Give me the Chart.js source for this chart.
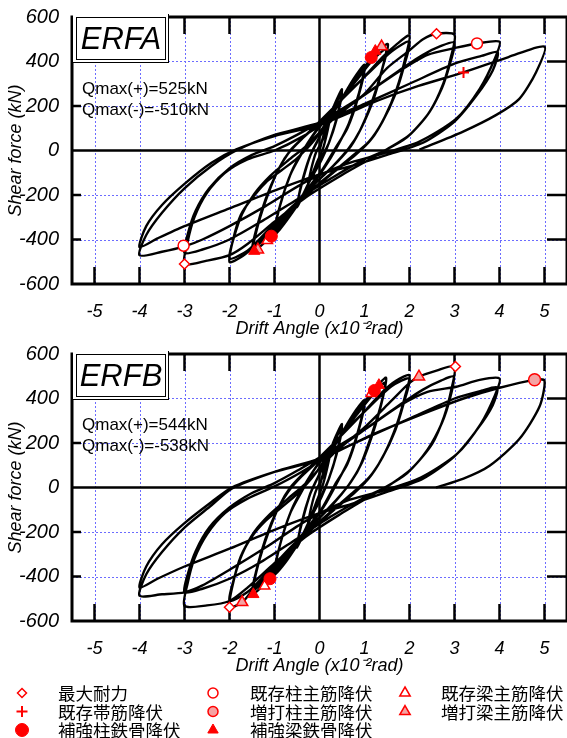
<!DOCTYPE html>
<html>
<head>
<meta charset="utf-8">
<title>ERFA / ERFB</title>
<script src="https://cdn.jsdelivr.net/npm/chart.js@4.4.1/dist/chart.umd.min.js"></script>
<style>
  body { margin: 0; background: #fff; }
  #page { position: relative; width: 567px; height: 738px; overflow: hidden; font-family: Arial, "Liberation Sans", sans-serif; }
  .plot { position: absolute; left: 0; }
  .tag { position: absolute; left: 73px; width: 96px; height: 49px; background: #fff; border-right: 1px solid #000; border-bottom: 1px solid #000; box-sizing: border-box; }
  .tag div { position: absolute; left: 3px; top: 3px; width: 90px; height: 43px; border: 1px solid #000; box-sizing: border-box; font-style: italic; font-size: 31px; line-height: 41px; text-align: center; }
  .qmax { position: absolute; left: 82px; font-size: 17px; line-height: 21px; white-space: nowrap; }
  .key { position: absolute; font-family: "Noto Sans CJK JP", sans-serif; font-size: 17.5px; line-height: 20px; white-space: nowrap; }
  #keys { position: absolute; left: 0; top: 678px; }
</style>
</head>
<body>
<div id="page">
  <canvas id="erfa" class="plot" width="567" height="340" style="top:0"></canvas>
  <canvas id="erfb" class="plot" width="567" height="340" style="top:337px"></canvas>
  <canvas id="keys" width="567" height="60"></canvas>

  <div class="tag" style="top:14px"><div>ERFA</div></div>
  <div class="qmax" style="top:78px">Qmax(+)=525kN<br>Qmax(-)=-510kN</div>

  <div class="tag" style="top:351px"><div>ERFB</div></div>
  <div class="qmax" style="top:414px">Qmax(+)=544kN<br>Qmax(-)=-538kN</div>
</div>

<script>
// axis ticks
const driftTicks = [-5, -4, -3, -2, -1, 0, 1, 2, 3, 4, 5];
const shearTicks = [-600, -400, -200, 0, 200, 400, 600];

// ERFA hysteresis (drift x10^-2 rad, shear kN), one line per cycle group
const erfaDrift = [
  0, 0.12, 0.25, 0.18, 0.08, -0.05, -0.25, -0.18, -0.08,
  0.1, 0.3, 0.5, 0.4, 0.22, 0.05, -0.25, -0.5, -0.4, -0.22, -0.05,
  0.25, 0.5, 0.38, 0.2, 0.02, -0.25, -0.5, -0.38, -0.2,
  0, 0.4, 0.75, 1.0, 0.88, 0.65, 0.4, 0.1, -0.4, -0.75, -1.0, -0.88, -0.65, -0.4, -0.1,
  0.4, 0.75, 1.0, 0.86, 0.62, 0.35, 0.05, -0.45, -0.75, -1.0, -0.86, -0.62, -0.35,
  0, 0.5, 0.95, 1.25, 1.52, 1.4, 1.2, 0.95, 0.7, 0.4, -0.2, -0.8, -1.2, -1.5, -1.4, -1.2, -0.95, -0.7, -0.4,
  0.2, 0.8, 1.2, 1.48, 1.37, 1.15, 0.9, 0.65, 0.3, -0.3, -0.9, -1.25, -1.47, -1.36, -1.15, -0.9, -0.65,
  -0.3, 0.3, 0.9, 1.4, 1.7, 2.0, 1.9, 1.72, 1.45, 1.15, 0.8, 0.3, -0.4, -1.0, -1.5, -1.75, -2.0, -1.92, -1.75, -1.5, -1.2, -0.85, -0.5, -0.1,
  0.5, 1.1, 1.6, 2.0, 1.88, 1.68, 1.4, 1.1, 0.7, 0.1, -0.6, -1.2, -1.6, -2.0, -1.9, -1.72, -1.45, -1.1, -0.7, -0.3,
  0.3, 1.0, 1.5, 2.0, 2.3, 2.6, 3.0, 2.92, 2.75, 2.45, 2.0, 1.5, 1.2, 0.5, -0.3, -1.0, -1.6, -2.0, -2.5, -3.0, -2.93, -2.78, -2.5, -2.1, -1.6, -1.0, -0.4,
  0.3, 1.0, 1.7, 2.3, 2.7, 3.0, 2.9, 2.72, 2.4, 1.95, 1.45, 1.0, 0.3, -0.5, -1.3, -2.0, -2.6, -3.0, -2.92, -2.75, -2.45, -2.0, -1.5, -1.0, -0.5,
  0.2, 1.0, 1.8, 2.4, 3.04, 3.5, 4.0, 3.89, 3.56, 3.04, 2.22, 1.33, 0.6, -0.3, -1.2, -2.0, -2.6, -3.0, -3.5, -4.0, -3.85, -3.5, -3.0, -2.4, -1.85, -1.0, 0,
  1.0, 2.0, 3.0, 3.6, 3.96, 3.85, 3.5, 3.0, 2.3, 1.5, 0.7, 0, -1.0, -2.0, -3.0, -3.6, -4.0, -3.85, -3.5, -3.0, -2.4, -1.85, -1.0, 0,
  1.33, 2.2, 3.2, 4.2, 5.0, 4.81, 4.44, 3.93, 3.18, 2.22
];
const erfaShear = [
  0, 90, 165, 90, 10, -50, -150, -80, -10,
  60, 190, 275, 160, 40, -40, -150, -255, -150, -30, 40,
  160, 262, 140, 30, -40, -150, -248, -140, -20,
  60, 200, 320, 385, 260, 120, 20, -80, -220, -320, -378, -250, -110, -15, 80,
  200, 310, 372, 240, 100, 10, -90, -220, -310, -365, -235, -95, 5,
  110, 230, 360, 440, 478, 370, 230, 110, 20, -50, -170, -320, -410, -455, -350, -220, -100, -15, 50,
  160, 310, 410, 455, 350, 210, 90, 10, -70, -190, -330, -400, -440, -330, -200, -80, 0,
  70, 190, 310, 420, 475, 517, 410, 280, 150, 50, -20, -100, -220, -340, -440, -480, -501, -400, -290, -215, -145, -90, -35, 50,
  230, 350, 445, 490, 380, 250, 130, 40, -30, -130, -250, -370, -450, -486, -390, -285, -195, -115, -45, 20,
  140, 255, 370, 450, 500, 525, 520, 420, 300, 175, 70, 5, -30, -110, -210, -320, -420, -470, -495, -510, -410, -300, -190, -100, -40, 0, 60,
  150, 250, 350, 430, 470, 485, 390, 280, 160, 60, 0, -40, -120, -220, -320, -400, -445, -460, -370, -270, -170, -80, -20, 20, 70,
  150, 250, 360, 430, 462, 481, 489, 410, 277, 143, 40, -18, -60, -140, -250, -340, -400, -431, -455, -471, -380, -280, -170, -70, 0, 70, 125,
  210, 300, 390, 425, 442, 360, 250, 130, 35, -20, -70, -107, -180, -260, -340, -395, -434, -340, -245, -150, -55, 5, 65, 115,
  227, 290, 351, 420, 467, 351, 232, 160, 84, 4
];

// ERFB hysteresis
const erfbDrift = [
  0, 0.12, 0.25, 0.18, 0.08, -0.05, -0.25, -0.18, -0.08,
  0.1, 0.3, 0.5, 0.4, 0.22, 0.05, -0.25, -0.5, -0.4, -0.22, -0.05,
  0.25, 0.5, 0.38, 0.2, 0.02, -0.25, -0.5, -0.38, -0.2,
  0, 0.4, 0.75, 1.0, 0.88, 0.65, 0.4, 0.1, -0.4, -0.75, -1.0, -0.88, -0.65, -0.4, -0.1,
  0.4, 0.75, 1.0, 0.86, 0.62, 0.35, 0.05, -0.45, -0.75, -1.0, -0.86, -0.62, -0.35,
  0, 0.5, 0.95, 1.25, 1.48, 1.38, 1.18, 0.95, 0.7, 0.4, -0.2, -0.8, -1.2, -1.5, -1.4, -1.2, -0.95, -0.7, -0.4,
  0.2, 0.8, 1.2, 1.45, 1.35, 1.13, 0.9, 0.65, 0.3, -0.3, -0.9, -1.25, -1.47, -1.36, -1.15, -0.9, -0.65,
  -0.3, 0.3, 0.9, 1.4, 1.7, 2.0, 1.9, 1.72, 1.45, 1.15, 0.8, 0.3, -0.4, -1.0, -1.5, -1.72, -2.0, -1.92, -1.75, -1.5, -1.2, -0.85, -0.5, -0.1,
  0.5, 1.1, 1.6, 2.0, 1.88, 1.68, 1.4, 1.1, 0.7, 0.1, -0.6, -1.2, -1.6, -2.0, -1.9, -1.72, -1.45, -1.1, -0.7, -0.3,
  0.3, 1.0, 1.6, 2.0, 2.21, 2.6, 3.0, 2.93, 2.77, 2.5, 2.05, 1.55, 1.2, 0.5, -0.3, -1.0, -1.6, -2.0, -2.5, -3.0, -2.93, -2.78, -2.5, -2.1, -1.6, -1.0, -0.4,
  0.3, 1.0, 1.7, 2.3, 2.7, 2.98, 2.9, 2.72, 2.4, 1.95, 1.45, 1.0, 0.3, -0.5, -1.3, -2.0, -2.6, -3.0, -2.92, -2.75, -2.45, -2.0, -1.5, -1.0, -0.5,
  0.2, 1.0, 1.8, 2.4, 3.04, 3.56, 4.0, 3.9, 3.58, 3.05, 2.25, 1.4, 0.6, -0.3, -1.2, -2.0, -2.6, -3.0, -3.5, -4.0, -3.85, -3.5, -3.0, -2.4, -1.95, -1.0, 0,
  1.0, 2.0, 3.0, 3.6, 3.95, 3.85, 3.5, 3.0, 2.3, 1.5, 0.7, 0, -1.0, -2.0, -3.0, -3.6, -4.0, -3.85, -3.5, -3.0, -2.4, -1.95, -1.0, 0,
  1.2, 2.44, 3.2, 3.96, 4.78, 5.0, 4.89, 4.44, 3.78, 3.2, 2.59
];
const erfbShear = [
  0, 95, 170, 95, 15, -55, -160, -85, -15,
  60, 200, 285, 170, 45, -40, -160, -270, -160, -35, 40,
  170, 272, 150, 35, -45, -160, -260, -150, -25,
  60, 210, 330, 392, 270, 125, 25, -85, -230, -335, -390, -260, -115, -20, 85,
  210, 320, 380, 250, 105, 15, -95, -230, -325, -378, -245, -100, 5,
  115, 240, 370, 450, 493, 380, 240, 115, 25, -50, -180, -340, -430, -480, -370, -230, -105, -20, 50,
  165, 320, 420, 470, 360, 220, 95, 12, -75, -200, -350, -425, -460, -345, -210, -85, 0,
  75, 195, 320, 430, 480, 505, 410, 285, 155, 55, -20, -105, -230, -360, -465, -516, -538, -430, -310, -220, -150, -90, -30, 60,
  240, 360, 455, 490, 385, 255, 135, 45, -30, -135, -260, -390, -470, -510, -410, -300, -200, -120, -50, 20,
  150, 270, 390, 470, 498, 525, 544, 440, 320, 195, 85, 10, -30, -115, -220, -340, -450, -510, -530, -532, -430, -320, -210, -115, -50, 5, 70,
  160, 260, 360, 440, 480, 498, 400, 290, 170, 65, 0, -45, -125, -230, -335, -410, -455, -471, -385, -285, -180, -90, -25, 20, 75,
  160, 260, 370, 430, 453, 484, 490, 415, 285, 150, 45, -15, -60, -150, -270, -370, -440, -471, -480, -487, -390, -290, -180, -80, -5, 70, 130,
  220, 310, 400, 435, 450, 370, 260, 140, 40, -20, -75, -115, -190, -275, -355, -410, -450, -355, -255, -160, -65, 0, 70, 125,
  240, 342, 400, 446, 484, 480, 364, 218, 98, 40, 0
];

// event markers, ERFA
const erfaMaxX = [2.6, -3.0],        erfaMaxY = [525, -510];
const erfaHoopX = [3.2],             erfaHoopY = [351];
const erfaSteelColX = [1.15, -1.07], erfaSteelColY = [418, -385];
const erfaExColX = [3.5, -3.02],     erfaExColY = [481, -428];
const erfaSteelBeamX = [1.24, -1.45], erfaSteelBeamY = [447, -452];
const erfaExBeamX = [-1.16],         erfaExBeamY = [-405];
const erfaAddBeamX = [1.38, -1.37],  erfaAddBeamY = [467, -446];

// event markers, ERFB
const erfbMaxX = [3.02, -2.0],       erfbMaxY = [544, -538];
const erfbSteelColX = [1.22, -1.1],  erfbSteelColY = [436, -410];
const erfbAddColX = [4.78],          erfbAddColY = [484];
const erfbSteelBeamX = [1.32, -1.47], erfbSteelBeamY = [460, -480];
const erfbExBeamX = [1.15, -1.22],   erfbExBeamY = [422, -443];
const erfbAddBeamX = [2.21, -1.72],  erfbAddBeamY = [498, -516];

const legendKinds = ['max', 'hoop', 'steelCol', 'exCol', 'addCol', 'steelBeam', 'exBeam', 'addBeam'];
const legendLabels = ['最大耐力', '既存帯筋降伏', '補強柱鉄骨降伏', '既存柱主筋降伏', '増打柱主筋降伏', '補強梁鉄骨降伏', '既存梁主筋降伏', '増打梁主筋降伏'];

const RED = '#ff0000';
const PINK = '#f5a3a3';
const FONT = 'Arial, "Liberation Sans", sans-serif';

const markerStyles = {
  max:       { pointStyle: 'rectRot',  radius: 5,   legendR: 4.5, bg: '#fff', border: RED, bw: 1.5 },
  hoop:      { pointStyle: 'cross',    radius: 5.5, legendR: 5.5, bg: RED,    border: RED, bw: 2 },
  steelCol:  { pointStyle: 'circle',   radius: 6,   legendR: 6.5, bg: RED,    border: RED, bw: 1 },
  exCol:     { pointStyle: 'circle',   radius: 5.5, legendR: 5,   bg: '#fff', border: RED, bw: 1.5 },
  addCol:    { pointStyle: 'circle',   radius: 6,   legendR: 5,   bg: PINK,   border: RED, bw: 1.5 },
  steelBeam: { pointStyle: 'triangle', radius: 6.5, legendR: 6,   bg: RED,    border: RED, bw: 1 },
  exBeam:    { pointStyle: 'triangle', radius: 6,   legendR: 6,   bg: '#fff', border: RED, bw: 1.5 },
  addBeam:   { pointStyle: 'triangle', radius: 6.5, legendR: 6,   bg: PINK,   border: RED, bw: 1.5 }
};

function pts(xs, ys) {
  return xs.map((x, i) => ({ x: x, y: ys[i] }));
}

// dotted grid, zero axes, inner tick marks and frame
const framePlugin = {
  id: 'frame',
  beforeDatasetsDraw(chart) {
    const { ctx, chartArea: a } = chart;
    const sx = chart.scales.x, sy = chart.scales.y;
    ctx.save();

    ctx.strokeStyle = '#6c6cff';
    ctx.lineWidth = 1;
    ctx.setLineDash([2, 2]);
    ctx.beginPath();
    driftTicks.forEach(v => {
      if (v === 0) return;
      const px = Math.round(sx.getPixelForValue(v)) + 0.5;
      ctx.moveTo(px, a.top);
      ctx.lineTo(px, a.bottom);
    });
    shearTicks.forEach(v => {
      if (v === 0 || Math.abs(v) === 600) return;
      const py = Math.round(sy.getPixelForValue(v)) + 0.5;
      ctx.moveTo(a.left, py);
      ctx.lineTo(a.right, py);
    });
    ctx.stroke();
    ctx.setLineDash([]);

    ctx.strokeStyle = '#000';
    ctx.lineWidth = 2.5;
    ctx.beginPath();
    const x0 = sx.getPixelForValue(0), y0 = sy.getPixelForValue(0);
    ctx.moveTo(x0, a.top); ctx.lineTo(x0, a.bottom);
    ctx.moveTo(a.left, y0); ctx.lineTo(a.right, y0);

    driftTicks.forEach(v => {
      const px = sx.getPixelForValue(v);
      ctx.moveTo(px, a.top); ctx.lineTo(px, a.top + 17);
      ctx.moveTo(px, a.bottom); ctx.lineTo(px, a.bottom - 17);
    });
    shearTicks.forEach(v => {
      if (v === 0 || Math.abs(v) === 600) return;
      const py = sy.getPixelForValue(v);
      ctx.moveTo(a.left, py); ctx.lineTo(a.left + 9, py);
      ctx.moveTo(a.right, py); ctx.lineTo(a.right - 20, py);
    });
    ctx.stroke();

    ctx.lineWidth = 3;
    ctx.strokeRect(a.left, a.top, a.right - a.left, a.bottom - a.top);
    ctx.restore();
  }
};

function makePlot(id, driftVals, shearVals, marks) {
  const datasets = [{
    data: pts(driftVals, shearVals),
    showLine: true,
    borderColor: '#000',
    borderWidth: 2.4,
    pointRadius: 0,
    tension: 0.25,
    order: 2
  }];
  marks.forEach(m => {
    const s = markerStyles[m[0]];
    datasets.push({
      data: pts(m[1], m[2]),
      showLine: false,
      pointStyle: s.pointStyle,
      pointRadius: s.radius,
      pointBackgroundColor: s.bg,
      pointBorderColor: s.border,
      pointBorderWidth: s.bw,
      order: 1
    });
  });

  return new Chart(document.getElementById(id), {
    type: 'scatter',
    data: { datasets: datasets },
    options: {
      responsive: false,
      animation: false,
      events: [],
      layout: { autoPadding: false, padding: { top: 14, left: 0, right: 0, bottom: 0 } },
      plugins: { legend: { display: false }, tooltip: { enabled: false } },
      scales: {
        x: {
          type: 'linear',
          min: -5.5,
          max: 5.5,
          afterBuildTicks: s => { s.ticks = driftTicks.map(v => ({ value: v })); },
          afterFit: s => { s.height = 56; s.paddingLeft = 0; s.paddingRight = 0; },
          grid: { display: false },
          border: { display: false },
          ticks: { padding: 9, color: '#000', autoSkip: false, maxRotation: 0,
                   font: { family: FONT, size: 18, style: 'italic' } },
          title: { display: true, text: 'Drift Angle (x10⁻²rad)', color: '#000', padding: 0,
                   font: { family: FONT, size: 18, style: 'italic' } }
        },
        y: {
          type: 'linear',
          min: -600,
          max: 600,
          afterBuildTicks: s => { s.ticks = shearTicks.map(v => ({ value: v })); },
          afterFit: s => { s.width = 72; },
          grid: { display: false },
          border: { display: false },
          ticks: { padding: 5, color: '#000',
                   font: { family: FONT, size: 20, style: 'italic' } },
          title: { display: true, text: 'Shear force (kN)', color: '#000', padding: { top: 5, bottom: 0 },
                   font: { family: FONT, size: 18, style: 'italic' } }
        }
      }
    },
    plugins: [framePlugin]
  });
}

makePlot('erfa', erfaDrift, erfaShear, [
  ['max', erfaMaxX, erfaMaxY],
  ['hoop', erfaHoopX, erfaHoopY],
  ['steelCol', erfaSteelColX, erfaSteelColY],
  ['exCol', erfaExColX, erfaExColY],
  ['steelBeam', erfaSteelBeamX, erfaSteelBeamY],
  ['exBeam', erfaExBeamX, erfaExBeamY],
  ['addBeam', erfaAddBeamX, erfaAddBeamY]
]);

makePlot('erfb', erfbDrift, erfbShear, [
  ['max', erfbMaxX, erfbMaxY],
  ['steelCol', erfbSteelColX, erfbSteelColY],
  ['addCol', erfbAddColX, erfbAddColY],
  ['steelBeam', erfbSteelBeamX, erfbSteelBeamY],
  ['exBeam', erfbExBeamX, erfbExBeamY],
  ['addBeam', erfbAddBeamX, erfbAddBeamY]
]);

// legend: three columns, filled top to bottom
function drawMarker(ctx, s, cx, cy, r) {
  ctx.fillStyle = s.bg;
  ctx.strokeStyle = s.border;
  ctx.lineWidth = s.bw;
  ctx.beginPath();
  if (s.pointStyle === 'circle') {
    ctx.arc(cx, cy, r, 0, Math.PI * 2);
  } else if (s.pointStyle === 'rectRot') {
    ctx.moveTo(cx, cy - r); ctx.lineTo(cx + r, cy); ctx.lineTo(cx, cy + r); ctx.lineTo(cx - r, cy);
    ctx.closePath();
  } else if (s.pointStyle === 'triangle') {
    for (let k = 0; k < 3; k++) {
      const ang = k * 2 * Math.PI / 3;
      ctx.lineTo(cx + Math.sin(ang) * r, cy - Math.cos(ang) * r);
    }
    ctx.closePath();
  } else if (s.pointStyle === 'cross') {
    ctx.moveTo(cx - r, cy); ctx.lineTo(cx + r, cy);
    ctx.moveTo(cx, cy - r); ctx.lineTo(cx, cy + r);
    ctx.stroke();
    return;
  }
  ctx.fill();
  ctx.stroke();
}

const keyCanvas = document.getElementById('keys');
const kctx = keyCanvas.getContext('2d');
const colMarkX = [22, 213, 405];
const colTextX = [58, 250, 441];
const rowY = [693, 711.5, 730];
const page = document.getElementById('page');

legendKinds.forEach((kind, i) => {
  const col = Math.floor(i / 3), row = i % 3;
  const s = markerStyles[kind];
  drawMarker(kctx, s, colMarkX[col], rowY[row] - 678, s.legendR);
  const span = document.createElement('div');
  span.className = 'key';
  span.style.left = colTextX[col] + 'px';
  span.style.top = (rowY[row] - 10) + 'px';
  span.textContent = legendLabels[i];
  page.appendChild(span);
});
</script>
</body>
</html>
